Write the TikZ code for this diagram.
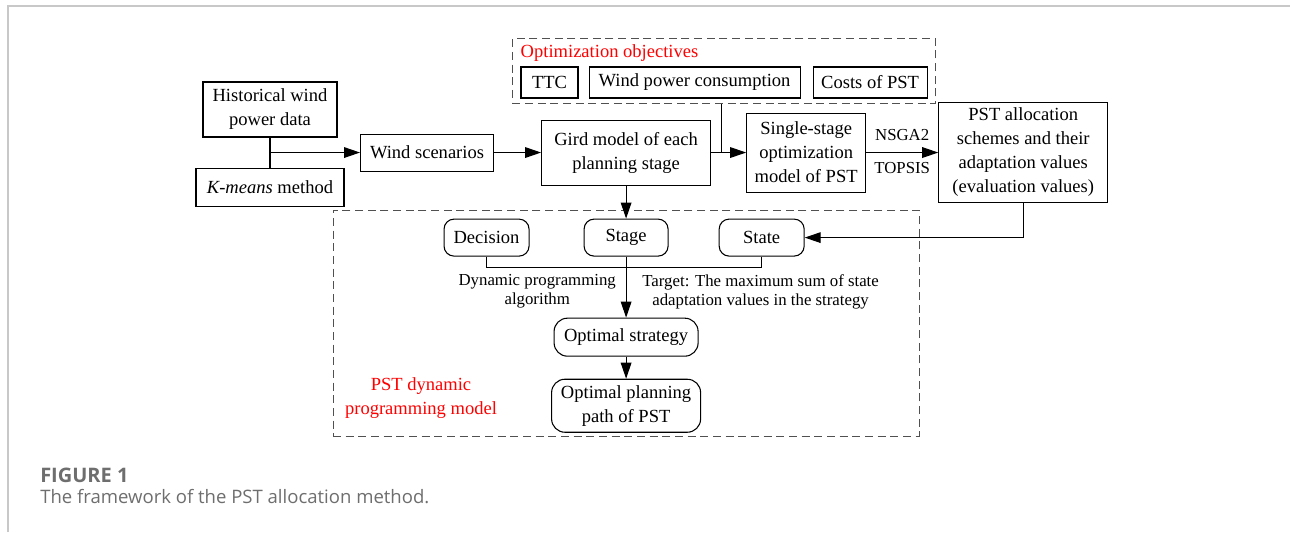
\documentclass[tikz,border=0pt]{standalone}
\usepackage{fontspec}
\setmainfont{Liberation Serif}
\newfontfamily\capfont{Open Sans}
\usepackage{xcolor}
\definecolor{dashGray}{HTML}{505050}
\definecolor{frameGray}{HTML}{C8C8C8}
\definecolor{capGray}{HTML}{6E6E6E}
\usepackage{tikz}
\usetikzlibrary{arrows.meta,positioning,fit,calc}
\newcommand{\mainsize}{\fontsize{13.9pt}{18pt}\selectfont}
\newcommand{\notesize}{\fontsize{12.6pt}{14.25pt}\selectfont}
\tikzset{
    box/.style={
        draw,
        rectangle,
        align=center,
        inner sep=0pt,
        line width=0.8pt,
        font=\mainsize
    },
    roundbox/.style={
        box,
        rounded corners=7.5pt
    },
    dashbox/.style={
        draw=dashGray,
        dash pattern=on 6pt off 3.5pt,
        line width=0.75pt,
        inner sep=0pt
    },
    arrow/.style={
        -{Triangle[length=12pt,width=8pt]},
        line width=0.8pt
    },
    link/.style={
        line width=0.8pt
    },
    note/.style={
        font=\notesize,
        align=center,
        inner sep=0pt
    },
    redtext/.style={
        font=\mainsize,
        text=red,
        align=center,
        inner sep=0pt
    },
    frameline/.style={
        draw=frameGray,
        line width=1.5pt
    },
    captitle/.style={
        font=\capfont\bfseries\fontsize{15pt}{17pt}\selectfont,
        text=capGray,
        inner sep=0pt
    },
    captext/.style={
        font=\capfont\fontsize{13.9pt}{16pt}\selectfont,
        text=capGray,
        inner sep=0pt
    }
}

\begin{document}
\begin{tikzpicture}[x=0.75pt, y=-0.75pt]
    \useasboundingbox (0,0) rectangle (1291,532);
    % page frame
    \draw[frameline] (7.5,532) -- (7.5,5.5) -- (1290,5.5);

    % Wind data
    \node[box, minimum width=100.5pt, minimum height=41.25pt] (hist) at (270,109.5) {Historical wind\\power data};
    \node[box, minimum width=111pt, minimum height=28.5pt, below=22.5pt of hist] (kmeans) {\textit{K-means} method};
    \coordinate (split) at ($(hist.south)!0.5!(kmeans.north)$);
    \node[box, minimum width=99.75pt, minimum height=27.75pt, right=67.5pt of split] (wind) {Wind scenarios};

    % Models
    \node[box, minimum width=126.75pt, minimum height=48.75pt, right=35.25pt of wind] (gird) {Gird model of each\\planning stage};
    \node[box, minimum width=89.25pt, minimum height=59.25pt, right=26.25pt of gird] (single) {Single-stage\\optimization\\model of PST};
    \node[box, minimum width=126.75pt, minimum height=75pt, right=54pt of single] (alloc) {PST allocation\\schemes and their\\adaptation values\\(evaluation values)};

    % Optimization objectives
    \node[box, minimum width=42.75pt, minimum height=23.25pt] (ttc) at (549.5,82.5) {TTC};
    \node[box, minimum width=158.25pt, minimum height=23.25pt, right=7.5pt of ttc] (wpc) {Wind power consumption};
    \node[box, minimum width=85.5pt, minimum height=23.25pt, right=9pt of wpc] (cost) {Costs of PST};
    \node[redtext, anchor=south west] (objtitle) at ([yshift=3.75pt]ttc.north west) {Optimization objectives};
    \node[dashbox, fit=(objtitle)(ttc)(wpc)(cost), inner xsep=6pt, inner ysep=4pt] (objbox) {};

    % Dynamic programming model
    \node[roundbox, minimum width=63pt, minimum height=27.75pt, below=24.75pt of gird] (stage) {Stage};
    \node[roundbox, minimum width=63.75pt, minimum height=27.75pt, left=40.5pt of stage] (decision) {Decision};
    \node[roundbox, minimum width=63.75pt, minimum height=27.75pt, right=37.5pt of stage] (state) {State};
    \node[roundbox, rounded corners=10pt, minimum width=108pt, minimum height=28.5pt, below=45.75pt of stage] (strategy) {Optimal strategy};
    \node[roundbox, rounded corners=10pt, minimum width=111.75pt, minimum height=39.75pt, below=16.5pt of strategy] (path) {Optimal planning\\path of PST};
    \node[dashbox, fit={(333,210)(919,436)}] (dpbox) {};
    \node[redtext] (dptitle) at (421,398) {PST dynamic\\programming model};

    % Arrows
    \draw[link] (hist) -- (kmeans);
    \draw[arrow] (split) -- (wind);
    \draw[arrow] (wind) -- (gird);
    \coordinate (join) at ($(gird.east)!0.3!(single.west)$);
    \draw[arrow] (gird) -- (single);
    \draw[link] (objbox.south -| join) -- (join);
    \draw[arrow] (single) -- node[note, above=8.5pt] {NSGA2} node[note, below=7pt] {TOPSIS} (alloc);
    \draw[arrow] (alloc.south) |- (state.east);
    \draw[arrow] (gird) -- (stage);
    \coordinate (bar) at ([yshift=-8.25pt]stage.south);
    \draw[link] (decision.south) |- (bar) -| (state.south);
    \draw[arrow] (stage) -- (strategy);
    \draw[arrow] (strategy) -- (path);
    \node[note, anchor=north east] (algo) at ([xshift=-7.5pt,yshift=-5pt]bar) {Dynamic programming\\algorithm};
    \node[note, anchor=north west] (target) at ([xshift=12pt,yshift=-5pt]bar) {Target: The maximum sum of state\\adaptation values in the strategy};

    % Caption
    \node[captitle, anchor=west] (figno) at (40,475) {FIGURE 1};
    \node[captext, anchor=west] (figtext) at (40,497) {The framework of the PST allocation method.};
\end{tikzpicture}
\end{document}
